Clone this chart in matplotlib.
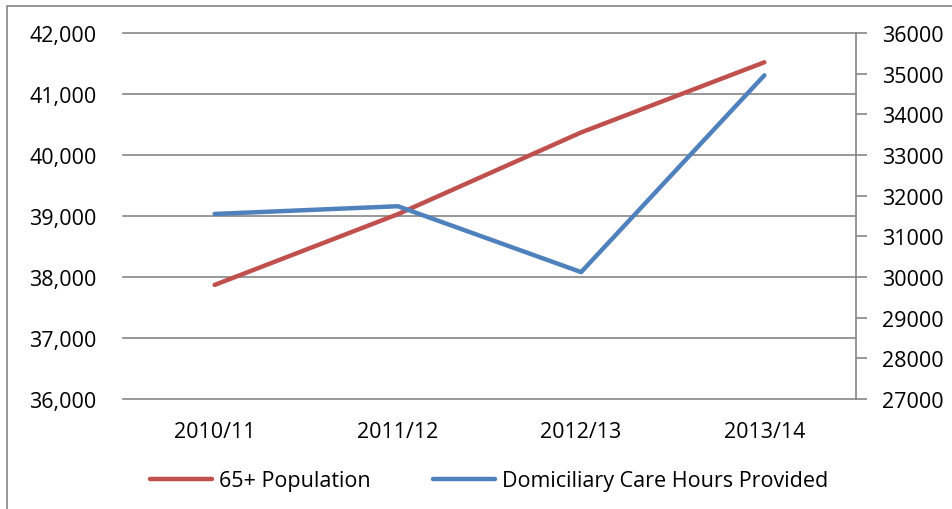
import matplotlib.pyplot as plt
from matplotlib.patches import Rectangle
from matplotlib.ticker import FuncFormatter

years = ['2010/11', '2011/12', '2012/13', '2013/14']
population_65 = [37870, 39030, 40370, 41520]
care_hours = [31550, 31740, 30120, 34960]

plt.rcParams['font.family'] = ['Open Sans', 'DejaVu Sans']
grey = '#868686'
fs = 15.5

fig = plt.figure(figsize=(9.53, 5.10), dpi=100)
ax = fig.add_axes([123 / 953, 1 - 400 / 510, (856 - 123) / 953, (400 - 34) / 510])
ax2 = ax.twinx()

x = list(range(len(years)))
ax.plot(x, population_65, color='#C0504D', lw=3.2, solid_capstyle='round',
        label='65+ Population', zorder=3)
ax2.plot(x, care_hours, color='#4F81BD', lw=3.2, solid_capstyle='round',
         label='Domiciliary Care Hours Provided', zorder=3)

ax.set_xlim(-0.5, 3.5)
ax.set_ylim(36000, 42000)
ax.set_yticks(range(36000, 42001, 1000))
ax.yaxis.set_major_formatter(FuncFormatter(lambda v, p: f'{int(v):,}'))
ax.set_xticks(x)
ax.set_xticklabels(years)
ax.grid(axis='y', color=grey, lw=1.2)
for gl in ax.get_ygridlines():
    gl.set_clip_on(False)
ax.set_axisbelow(True)
ax.tick_params(axis='x', length=0, labelsize=fs, pad=16)
ax.tick_params(axis='y', length=0, labelsize=fs, pad=19)

ax2.set_ylim(27000, 36000)
ax2.set_yticks(range(27000, 36001, 1000))
ax2.tick_params(axis='y', length=8, color=grey, width=1.2, labelsize=fs, pad=11)

for a in (ax, ax2):
    for s in ('top', 'left', 'bottom', 'right'):
        a.spines[s].set_visible(False)
ax2.spines['right'].set_visible(True)
ax2.spines['right'].set_color(grey)
ax2.spines['right'].set_linewidth(1.2)

h1, l1 = ax.get_legend_handles_labels()
h2, l2 = ax2.get_legend_handles_labels()
fig.legend(h1 + h2, l1 + l2, loc='center', bbox_to_anchor=(489 / 953, 1 - 482 / 510),
           ncol=2, frameon=False, fontsize=fs, handlelength=2.9, handletextpad=0.3,
           columnspacing=2.9)

fig.patches.append(Rectangle((7 / 953, -0.1), 1.2, 1 - 7 / 510 + 0.1,
                             transform=fig.transFigure, fill=False,
                             edgecolor=grey, lw=1.2))

fig.savefig('out.png', dpi=100)
